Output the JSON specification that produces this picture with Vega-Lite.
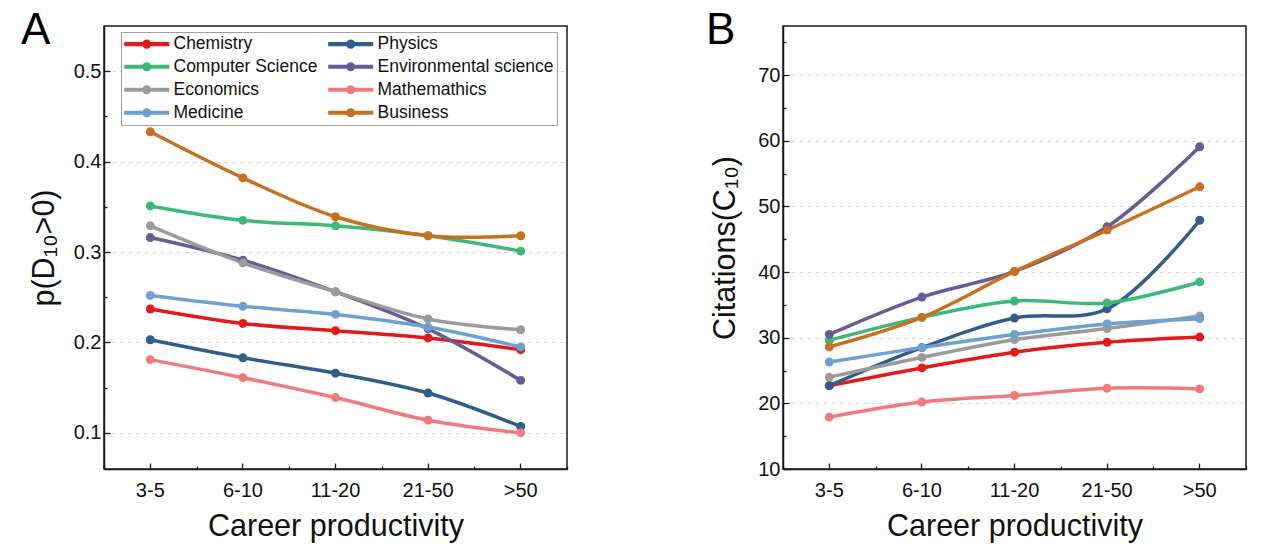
{
  "$schema": "https://vega.github.io/schema/vega-lite/v6.json",
  "description": "Share of D10>0 and 10-year citations by career productivity, per discipline",
  "background": "white",
  "padding": {"left": 20, "top": 8, "right": 5, "bottom": 5},
  "spacing": 136,
  "datasets": {
    "panelA": [
      {"discipline": "Chemistry", "productivity": "3-5", "value": 0.237},
      {"discipline": "Chemistry", "productivity": "6-10", "value": 0.221},
      {"discipline": "Chemistry", "productivity": "11-20", "value": 0.213},
      {"discipline": "Chemistry", "productivity": "21-50", "value": 0.205},
      {"discipline": "Chemistry", "productivity": ">50", "value": 0.192},
      {"discipline": "Physics", "productivity": "3-5", "value": 0.203},
      {"discipline": "Physics", "productivity": "6-10", "value": 0.183},
      {"discipline": "Physics", "productivity": "11-20", "value": 0.166},
      {"discipline": "Physics", "productivity": "21-50", "value": 0.144},
      {"discipline": "Physics", "productivity": ">50", "value": 0.107},
      {"discipline": "Computer Science", "productivity": "3-5", "value": 0.351},
      {"discipline": "Computer Science", "productivity": "6-10", "value": 0.335},
      {"discipline": "Computer Science", "productivity": "11-20", "value": 0.329},
      {"discipline": "Computer Science", "productivity": "21-50", "value": 0.318},
      {"discipline": "Computer Science", "productivity": ">50", "value": 0.301},
      {"discipline": "Environmental science", "productivity": "3-5", "value": 0.316},
      {"discipline": "Environmental science", "productivity": "6-10", "value": 0.291},
      {"discipline": "Environmental science", "productivity": "11-20", "value": 0.256},
      {"discipline": "Environmental science", "productivity": "21-50", "value": 0.215},
      {"discipline": "Environmental science", "productivity": ">50", "value": 0.158},
      {"discipline": "Economics", "productivity": "3-5", "value": 0.329},
      {"discipline": "Economics", "productivity": "6-10", "value": 0.288},
      {"discipline": "Economics", "productivity": "11-20", "value": 0.256},
      {"discipline": "Economics", "productivity": "21-50", "value": 0.226},
      {"discipline": "Economics", "productivity": ">50", "value": 0.214},
      {"discipline": "Mathemathics", "productivity": "3-5", "value": 0.181},
      {"discipline": "Mathemathics", "productivity": "6-10", "value": 0.161},
      {"discipline": "Mathemathics", "productivity": "11-20", "value": 0.139},
      {"discipline": "Mathemathics", "productivity": "21-50", "value": 0.114},
      {"discipline": "Mathemathics", "productivity": ">50", "value": 0.100},
      {"discipline": "Medicine", "productivity": "3-5", "value": 0.252},
      {"discipline": "Medicine", "productivity": "6-10", "value": 0.240},
      {"discipline": "Medicine", "productivity": "11-20", "value": 0.231},
      {"discipline": "Medicine", "productivity": "21-50", "value": 0.217},
      {"discipline": "Medicine", "productivity": ">50", "value": 0.195},
      {"discipline": "Business", "productivity": "3-5", "value": 0.433},
      {"discipline": "Business", "productivity": "6-10", "value": 0.382},
      {"discipline": "Business", "productivity": "11-20", "value": 0.339},
      {"discipline": "Business", "productivity": "21-50", "value": 0.318},
      {"discipline": "Business", "productivity": ">50", "value": 0.318}
    ],
    "panelB": [
      {"discipline": "Chemistry", "productivity": "3-5", "value": 22.7},
      {"discipline": "Chemistry", "productivity": "6-10", "value": 25.4},
      {"discipline": "Chemistry", "productivity": "11-20", "value": 27.8},
      {"discipline": "Chemistry", "productivity": "21-50", "value": 29.3},
      {"discipline": "Chemistry", "productivity": ">50", "value": 30.1},
      {"discipline": "Physics", "productivity": "3-5", "value": 22.7},
      {"discipline": "Physics", "productivity": "6-10", "value": 28.5},
      {"discipline": "Physics", "productivity": "11-20", "value": 33.0},
      {"discipline": "Physics", "productivity": "21-50", "value": 34.4},
      {"discipline": "Physics", "productivity": ">50", "value": 47.9},
      {"discipline": "Computer Science", "productivity": "3-5", "value": 29.6},
      {"discipline": "Computer Science", "productivity": "6-10", "value": 33.1},
      {"discipline": "Computer Science", "productivity": "11-20", "value": 35.6},
      {"discipline": "Computer Science", "productivity": "21-50", "value": 35.3},
      {"discipline": "Computer Science", "productivity": ">50", "value": 38.5},
      {"discipline": "Environmental science", "productivity": "3-5", "value": 30.5},
      {"discipline": "Environmental science", "productivity": "6-10", "value": 36.2},
      {"discipline": "Environmental science", "productivity": "11-20", "value": 40.1},
      {"discipline": "Environmental science", "productivity": "21-50", "value": 46.9},
      {"discipline": "Environmental science", "productivity": ">50", "value": 59.1},
      {"discipline": "Economics", "productivity": "3-5", "value": 24.0},
      {"discipline": "Economics", "productivity": "6-10", "value": 27.0},
      {"discipline": "Economics", "productivity": "11-20", "value": 29.7},
      {"discipline": "Economics", "productivity": "21-50", "value": 31.4},
      {"discipline": "Economics", "productivity": ">50", "value": 33.3},
      {"discipline": "Mathemathics", "productivity": "3-5", "value": 17.9},
      {"discipline": "Mathemathics", "productivity": "6-10", "value": 20.2},
      {"discipline": "Mathemathics", "productivity": "11-20", "value": 21.2},
      {"discipline": "Mathemathics", "productivity": "21-50", "value": 22.3},
      {"discipline": "Mathemathics", "productivity": ">50", "value": 22.2},
      {"discipline": "Medicine", "productivity": "3-5", "value": 26.3},
      {"discipline": "Medicine", "productivity": "6-10", "value": 28.5},
      {"discipline": "Medicine", "productivity": "11-20", "value": 30.5},
      {"discipline": "Medicine", "productivity": "21-50", "value": 32.1},
      {"discipline": "Medicine", "productivity": ">50", "value": 32.9},
      {"discipline": "Business", "productivity": "3-5", "value": 28.6},
      {"discipline": "Business", "productivity": "6-10", "value": 33.1},
      {"discipline": "Business", "productivity": "11-20", "value": 40.1},
      {"discipline": "Business", "productivity": "21-50", "value": 46.4},
      {"discipline": "Business", "productivity": ">50", "value": 53.0}
    ]
  },
  "config": {
    "font": "Liberation Sans",
    "view": {"stroke": "#1a1a1a", "strokeWidth": 1.5},
    "axis": {
      "labelFont": "Liberation Sans",
      "labelFontSize": 20,
      "labelColor": "#111111",
      "titleFont": "Liberation Sans",
      "titleFontSize": 30.5,
      "titleFontWeight": "normal",
      "titleColor": "#111111",
      "domainColor": "#1a1a1a",
      "domainWidth": 1.5,
      "tickColor": "#1a1a1a",
      "tickWidth": 1.3,
      "gridColor": "#d6d6d6",
      "gridDash": [4, 4],
      "gridWidth": 1
    },
    "legend": {
      "labelFont": "Liberation Sans",
      "labelFontSize": 17.5,
      "labelColor": "#111111",
      "labelLimit": 400,
      "strokeColor": "#a0a0a0",
      "fillColor": "white",
      "padding": 3,
      "rowPadding": 4,
      "columnPadding": 10,
      "labelOffset": 4,
      "symbolOffset": 28
    },
    "title": {"font": "Liberation Sans", "fontSize": 44, "fontWeight": "normal", "color": "#000000"}
  },
  "hconcat": [
    {
      "width": 463,
      "height": 443,
      "title": {"text": "A", "anchor": "start", "frame": "group", "baseline": "alphabetic", "offset": 0, "dx": -83, "dy": 62},
      "data": {"name": "panelA"},
      "layer": [
        {
          "mark": {"type": "line", "interpolate": "catmull-rom", "strokeWidth": 3.5},
          "encoding": {
            "x": {
              "field": "productivity", "type": "ordinal",
              "scale": {"type": "band", "domain": ["3-5", "6-10", "11-20", "21-50", ">50"], "paddingInner": 0, "paddingOuter": 0},
              "axis": {"orient": "bottom", "title": "Career productivity", "labelAngle": 0, "tickSize": -6, "labelPadding": 17, "titlePadding": 11, "grid": false}
            },
            "y": {
              "field": "value", "type": "quantitative",
              "scale": {"domain": [0.06, 0.55], "nice": false, "zero": false},
              "axis": {"orient": "left", "title": "p(D₁₀>0)", "values": [0.1, 0.2, 0.3, 0.4, 0.5], "format": ".1f", "tickSize": -6, "labelPadding": 9, "titlePadding": 14, "grid": true}
            },
            "color": {
              "field": "discipline", "type": "nominal",
              "scale": {
                "domain": ["Chemistry", "Computer Science", "Economics", "Medicine", "Physics", "Environmental science", "Mathemathics", "Business"],
                "range": ["#e31a1c", "#3cb878", "#9b9b9b", "#6ea0d2", "#2f5d8c", "#645d96", "#f07a7c", "#c8701e"]
              },
              "legend": {
                "orient": "none", "legendX": 17, "legendY": 6, "columns": 2, "title": null,
                "symbolType": "M-4.3,-0.24H1V0.24H-4.3Z M-1.12,0A0.53,0.53 0 1 1 -2.18,0A0.53,0.53 0 1 1 -1.12,0Z",
                "symbolSize": 289, "symbolStrokeWidth": 0
              }
            }
          }
        },
        {
          "mark": {"type": "point", "filled": true, "size": 80, "opacity": 1},
          "encoding": {
            "x": {
              "field": "productivity", "type": "ordinal",
              "scale": {"type": "band", "domain": ["3-5", "6-10", "11-20", "21-50", ">50"], "paddingInner": 0, "paddingOuter": 0},
              "axis": {"orient": "bottom", "title": null, "labels": false, "domain": false, "tickBand": "extent", "tickSize": -3, "grid": false}
            },
            "y": {
              "field": "value", "type": "quantitative",
              "scale": {"domain": [0.06, 0.55], "nice": false, "zero": false},
              "axis": {"orient": "left", "title": null, "labels": false, "domain": false, "values": [0.15, 0.25, 0.35, 0.45], "tickSize": -3, "grid": false}
            },
            "color": {"field": "discipline", "type": "nominal"}
          }
        }
      ],
      "resolve": {"axis": {"x": "independent", "y": "independent"}}
    },
    {
      "width": 463,
      "height": 443,
      "title": {"text": "B", "anchor": "start", "frame": "group", "baseline": "alphabetic", "offset": 0, "dx": -77, "dy": 62},
      "data": {"name": "panelB"},
      "layer": [
        {
          "mark": {"type": "line", "interpolate": "catmull-rom", "strokeWidth": 3.5},
          "encoding": {
            "x": {
              "field": "productivity", "type": "ordinal",
              "scale": {"type": "band", "domain": ["3-5", "6-10", "11-20", "21-50", ">50"], "paddingInner": 0, "paddingOuter": 0},
              "axis": {"orient": "bottom", "title": "Career productivity", "labelAngle": 0, "tickSize": -6, "labelPadding": 17, "titlePadding": 11, "grid": false}
            },
            "y": {
              "field": "value", "type": "quantitative",
              "scale": {"domain": [10, 77.5], "nice": false, "zero": false},
              "axis": {"orient": "left", "title": "Citations(C₁₀)", "values": [10, 20, 30, 40, 50, 60, 70], "tickSize": -6, "labelPadding": 9, "titlePadding": 17, "grid": true}
            },
            "color": {
              "field": "discipline", "type": "nominal",
              "scale": {
                "domain": ["Chemistry", "Computer Science", "Economics", "Medicine", "Physics", "Environmental science", "Mathemathics", "Business"],
                "range": ["#e31a1c", "#3cb878", "#9b9b9b", "#6ea0d2", "#2f5d8c", "#645d96", "#f07a7c", "#c8701e"]
              },
              "legend": {
                "orient": "none", "legendX": 16, "legendY": 8, "columns": 2, "title": null,
                "symbolType": "M-4.3,-0.24H1V0.24H-4.3Z M-1.12,0A0.53,0.53 0 1 1 -2.18,0A0.53,0.53 0 1 1 -1.12,0Z",
                "symbolSize": 289, "symbolStrokeWidth": 0
              }
            }
          }
        },
        {
          "mark": {"type": "point", "filled": true, "size": 80, "opacity": 1},
          "encoding": {
            "x": {
              "field": "productivity", "type": "ordinal",
              "scale": {"type": "band", "domain": ["3-5", "6-10", "11-20", "21-50", ">50"], "paddingInner": 0, "paddingOuter": 0},
              "axis": {"orient": "bottom", "title": null, "labels": false, "domain": false, "tickBand": "extent", "tickSize": -3, "grid": false}
            },
            "y": {
              "field": "value", "type": "quantitative",
              "scale": {"domain": [10, 77.5], "nice": false, "zero": false},
              "axis": {"orient": "left", "title": null, "labels": false, "domain": false, "values": [15, 25, 35, 45, 55, 65, 75], "tickSize": -3, "grid": false}
            },
            "color": {"field": "discipline", "type": "nominal"}
          }
        }
      ],
      "resolve": {"axis": {"x": "independent", "y": "independent"}}
    }
  ]
}
